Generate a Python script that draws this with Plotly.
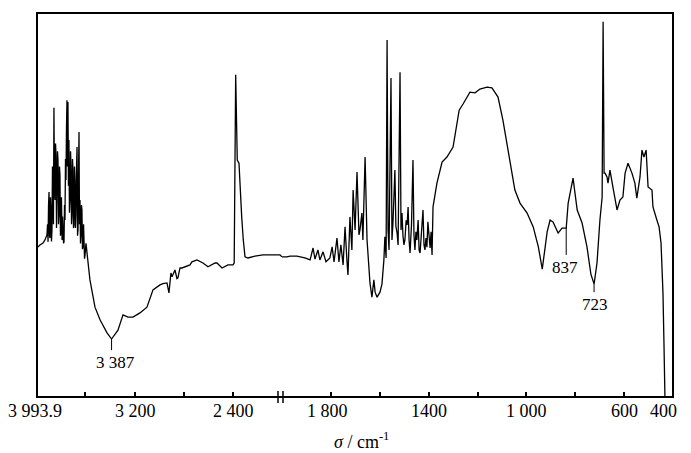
import plotly.graph_objects as go

# ---- spectrum, high-wavenumber segment (3993.9 -> 2000 cm-1) ----
wn_hi = [3993.9, 3986, 3970, 3945, 3929, 3913, 3908, 3904, 3900, 3896, 3892, 3888, 3884,
         3880, 3876, 3872, 3868, 3864, 3860, 3856, 3852, 3847, 3843, 3839, 3835, 3831,
         3827, 3823, 3819, 3815, 3811, 3807, 3803, 3799, 3795, 3790, 3786, 3782, 3778,
         3774, 3770, 3766, 3762, 3758, 3754, 3750, 3746, 3742, 3738, 3734, 3730, 3725,
         3721, 3717, 3713, 3709, 3705, 3701, 3697, 3693, 3689, 3685, 3681, 3677, 3672,
         3668, 3664, 3660, 3656, 3652, 3648, 3644, 3640, 3636, 3632, 3628, 3624, 3620,
         3615, 3611, 3607, 3603, 3595, 3587, 3579, 3563, 3522, 3481, 3424, 3387, 3335,
         3294, 3253, 3213, 3156, 3099, 3050, 2993, 2969, 2936, 2920, 2904, 2895, 2871,
         2855, 2847, 2830, 2814, 2749, 2733, 2692, 2643, 2602, 2545, 2529, 2488, 2440,
         2399, 2389, 2377, 2364, 2350, 2342, 2328, 2315, 2301, 2277, 2220, 2155, 2098,
         2016, 2000]
t_hi = [39.1, 39.1, 39.6, 40.1, 40.9, 42.2, 45.0, 40.4, 50.0, 53.4, 42.0, 41.4, 52.0,
        48.7, 40.5, 43.5, 60.0, 56.5, 45.0, 75.3, 55.0, 51.3, 66.0, 63.0, 44.0, 50.0,
        64.0, 61.7, 45.0, 47.4, 60.0, 57.8, 42.0, 43.5, 52.0, 40.9, 47.0, 44.8, 40.0,
        40.4, 50.0, 46.1, 62.0, 56.5, 70.0, 77.3, 60.0, 76.8, 55.0, 66.9, 48.0, 51.3,
        64.0, 60.4, 45.0, 47.4, 62.0, 59.1, 44.0, 44.8, 60.0, 56.5, 44.0, 47.4, 60.0,
        65.1, 42.0, 43.5, 58.0, 69.0, 45.0, 51.3, 40.0, 42.2, 50.0, 48.7, 38.5, 39.1,
        45.0, 41.4, 36.0, 37.0, 40.0, 36.5, 35.2, 30.5, 23.4, 20.1, 16.7, 15.1, 17.4,
        21.4, 20.8, 20.8, 21.9, 23.4, 27.9, 29.2, 29.5, 29.7, 27.1, 32.3, 31.3, 33.1,
        30.8, 31.0, 33.6, 33.6, 34.4, 35.2, 35.7, 34.9, 33.9, 34.9, 34.9, 33.6, 34.4,
        34.4, 34.9, 83.9, 61.7, 60.9, 54.7, 46.9, 40.9, 36.5, 36.2, 36.7, 37.0, 37.0,
        37.0, 36.5]

# ---- spectrum, low-wavenumber segment (2000 -> 400 cm-1) ----
wn_lo = [2000, 1980, 1967, 1939, 1906, 1885, 1873, 1865, 1853, 1845, 1832, 1820, 1804,
         1795, 1787, 1775, 1767, 1759, 1750, 1742, 1734, 1730, 1722, 1714, 1709, 1701,
         1693, 1685, 1681, 1673, 1669, 1660, 1652, 1644, 1640, 1632, 1624, 1619, 1611,
         1599, 1591, 1583, 1579, 1574, 1570, 1566, 1562, 1554, 1550, 1546, 1538, 1534,
         1529, 1525, 1517, 1513, 1509, 1505, 1501, 1497, 1492, 1488, 1484, 1480, 1476,
         1470, 1464, 1460, 1456, 1452, 1448, 1443, 1439, 1435, 1431, 1427, 1423, 1419,
         1415, 1411, 1407, 1403, 1398, 1394, 1390, 1386, 1382, 1374, 1366, 1345, 1325,
         1300, 1275, 1259, 1231, 1210, 1190, 1161, 1141, 1116, 1096, 1075, 1047, 1026,
         997, 972, 951, 935, 925, 915, 903, 891, 870, 854, 842, 837, 829, 809, 792, 772,
         752, 736, 723, 711, 699, 690, 686, 682, 678, 670, 666, 658, 646, 629, 617, 605,
         596, 584, 568, 556, 548, 535, 527, 519, 510, 502, 486, 482, 466, 457, 449, 441,
         437, 433]
t_lo = [36.5, 36.5, 36.7, 36.7, 36.2, 35.7, 38.8, 35.9, 38.3, 35.7, 37.8, 35.2, 36.2,
        39.1, 35.2, 41.4, 35.2, 39.6, 34.4, 44.3, 35.2, 31.8, 46.9, 38.3, 53.9, 43.5,
        58.6, 42.2, 43.5, 47.9, 40.9, 62.5, 40.9, 33.3, 29.7, 26.0, 30.5, 27.3, 26.0,
        27.3, 29.4, 35.7, 41.7, 36.2, 93.0, 43.5, 38.3, 83.1, 40.9, 45.3, 59.1, 44.5,
        42.7, 39.6, 84.6, 43.5, 47.9, 42.0, 39.6, 40.9, 46.0, 44.8, 49.5, 40.9, 37.5,
        45.0, 61.7, 42.2, 38.3, 43.0, 40.9, 46.1, 38.3, 37.5, 40.9, 44.0, 48.7, 39.6,
        38.3, 41.4, 39.0, 45.6, 40.5, 38.8, 43.0, 37.0, 49.5, 52.3, 55.7, 61.2, 62.5,
        65.1, 74.7, 76.3, 79.4, 79.2, 80.2, 80.7, 80.5, 78.1, 72.1, 64.3, 53.9, 50.5,
        47.9, 44.3, 39.1, 33.3, 38.0, 43.0, 46.1, 45.6, 42.7, 44.0, 44.0, 44.0, 50.5,
        57.0, 48.7, 45.3, 39.1, 32.0, 29.4, 34.9, 46.1, 52.0, 97.7, 58.3, 58.3, 57.3,
        55.7, 59.1, 54.7, 48.7, 51.3, 52.1, 58.3, 60.9, 58.3, 55.7, 51.8, 57.3, 64.3,
        62.5, 64.3, 54.7, 53.9, 49.5, 46.1, 44.3, 40.1, 27.1, 14.1, 0.0]

# ---- peak labels ----
peak_wn = [3387, 837, 723]
peak_text = ["3 387", "837", "723"]
peak_top = [15.1, 44.0, 29.4]
peak_bot = [12.2, 37.0, 27.3]
peak_label_wn = [3359, 842, 719]
peak_label_t = [9.1, 33.6, 24.2]

# ---- axis ticks ----
hi_ticks = [3993.9, 3600, 3200, 2800, 2400]
hi_ticktext = ["3 993.9", "", "3 200", "", "2 400"]
lo_ticks = [1800, 1600, 1400, 1200, 1000, 800, 600, 400]
lo_ticktext = ["1 800", "", "1400", "", "1 000", "", "600", "400"]

SERIF = "Liberation Serif"
W, H = 691, 453
ML, MR, MT, MB = 37, 18, 13, 56
PW = W - ML - MR
PH = H - MT - MB
split = 245 / PW  # domain split at 2000 cm-1

fig = go.Figure()
fig.add_trace(go.Scatter(x=wn_hi, y=t_hi, mode="lines", xaxis="x", yaxis="y",
                         line=dict(color="black", width=1.3), showlegend=False))
fig.add_trace(go.Scatter(x=wn_lo, y=t_lo, mode="lines", xaxis="x2", yaxis="y",
                         line=dict(color="black", width=1.3), showlegend=False))

# leader lines
for i, w in enumerate(peak_wn):
    xa = "x" if w > 2000 else "x2"
    fig.add_trace(go.Scatter(x=[w, w], y=[peak_top[i], peak_bot[i]], mode="lines",
                             xaxis=xa, yaxis="y", line=dict(color="black", width=1),
                             showlegend=False))

annotations = []
for i, w in enumerate(peak_label_wn):
    xa = "x" if w > 2000 else "x2"
    annotations.append(dict(x=w, y=peak_label_t[i], xref=xa, yref="y", text=peak_text[i],
                            showarrow=False, font=dict(family=SERIF, size=17, color="black"),
                            xanchor="center", yanchor="middle"))

lab_y = -14 / PH
for v, t in zip(hi_ticks, hi_ticktext):
    if t:
        annotations.append(dict(x=v, y=lab_y, xref="x", yref="paper", text=t, showarrow=False,
                                xshift=-2 if v == 3993.9 else 1,
                                font=dict(family=SERIF, size=18, color="black"),
                                xanchor="center", yanchor="middle"))
for v, t in zip(lo_ticks, lo_ticktext):
    if t:
        sh = {1800: -3, 400: -10}.get(v, 0)
        annotations.append(dict(x=v, y=lab_y, xref="x2", yref="paper", text=t, showarrow=False,
                                xshift=sh, font=dict(family=SERIF, size=18, color="black"),
                                xanchor="center", yanchor="middle"))

annotations.append(dict(x=(361 - ML) / PW, y=-43 / PH, xref="paper", yref="paper",
                        text="<i>σ</i> / cm<sup>-1</sup>", showarrow=False,
                        font=dict(family=SERIF, size=18, color="black"),
                        xanchor="center", yanchor="middle"))

shapes = [
    dict(type="rect", xref="paper", yref="paper", x0=0, x1=1, y0=0, y1=1,
         line=dict(color="black", width=2), fillcolor="rgba(0,0,0,0)"),
    dict(type="line", xref="paper", yref="paper", x0=(278 - ML) / PW, x1=(278 - ML) / PW,
         y0=-6 / PH, y1=6 / PH, line=dict(color="black", width=1.5)),
    dict(type="line", xref="paper", yref="paper", x0=(283 - ML) / PW, x1=(283 - ML) / PW,
         y0=-6 / PH, y1=6 / PH, line=dict(color="black", width=1.5)),
]

axis_common = dict(showgrid=False, zeroline=False, showline=False, ticks="inside",
                   ticklen=5, tickwidth=1.5, tickcolor="black", showticklabels=False)

fig.update_layout(
    width=W, height=H,
    margin=dict(l=ML, r=MR, t=MT, b=MB),
    paper_bgcolor="white", plot_bgcolor="white",
    xaxis=dict(domain=[0, split], range=[3993.9, 2000], tickvals=hi_ticks, anchor="y",
               **axis_common),
    xaxis2=dict(domain=[split, 1], range=[2000, 400], tickvals=lo_ticks, anchor="y",
                **axis_common),
    yaxis=dict(range=[0, 100], visible=False, fixedrange=True),
    annotations=annotations,
    shapes=shapes,
    showlegend=False,
)

fig.write_html("out.html")
